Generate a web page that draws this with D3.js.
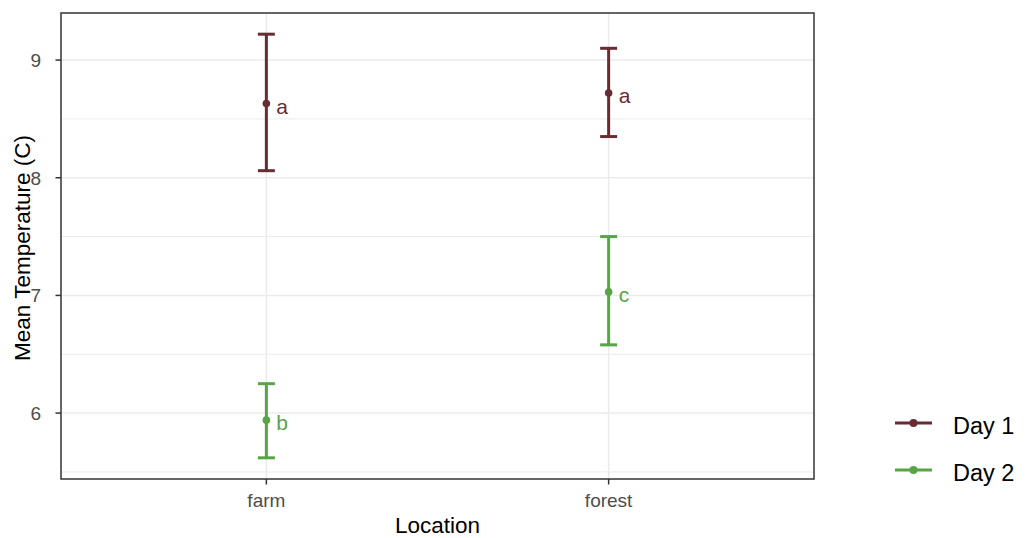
<!DOCTYPE html>
<html>
<head>
<meta charset="utf-8">
<script src="https://cdn.jsdelivr.net/npm/d3@7"></script>
<style>
  body { margin: 0; background: #fff; }
  svg { display: block; font-family: "Liberation Sans", Arial, sans-serif; }
  .grid-major { stroke: #ebebeb; stroke-width: 1.5; }
  .grid-minor { stroke: #ebebeb; stroke-width: 1; }
  .tick-label { fill: #4d4d4d; font-size: 19px; }
  .axis-title { fill: #000; font-size: 22.5px; }
  .legend-text { fill: #000; font-size: 23.5px; }
</style>
</head>
<body>
<svg id="chart" width="1029" height="538"></svg>
<script>
// data
var locations = ["farm", "forest"];
var seriesNames = ["Day 1", "Day 2"];
var seriesColors = ["#672d33", "#58a447"];
var day1Mean = [8.63, 8.72];
var day1Upper = [9.22, 9.10];
var day1Lower = [8.06, 8.35];
var day1Letters = ["a", "a"];
var day2Mean = [5.94, 7.03];
var day2Upper = [6.25, 7.50];
var day2Lower = [5.62, 6.58];
var day2Letters = ["b", "c"];
var yTicks = [6, 7, 8, 9];
var yMinor = [5.5, 6.5, 7.5, 8.5];

var series = [
  { name: seriesNames[0], color: seriesColors[0], mean: day1Mean, upper: day1Upper, lower: day1Lower, letters: day1Letters },
  { name: seriesNames[1], color: seriesColors[1], mean: day2Mean, upper: day2Upper, lower: day2Lower, letters: day2Letters }
];

var panel = { left: 61, right: 814, top: 13, bottom: 479 };
var svg = d3.select("#chart");

var x = d3.scalePoint()
  .domain(locations)
  .range([panel.left, panel.right])
  .padding(0.6);

var lo = d3.min(series, function(s) { return d3.min(s.lower); });
var hi = d3.max(series, function(s) { return d3.max(s.upper); });
var pad = (hi - lo) * 0.05;
var y = d3.scaleLinear()
  .domain([lo - pad, hi + pad])
  .range([panel.bottom, panel.top]);

// grid
var grid = svg.append("g");
grid.selectAll(".gm").data(yMinor).enter().append("line")
  .attr("class", "grid-minor")
  .attr("x1", panel.left).attr("x2", panel.right)
  .attr("y1", function(d) { return y(d); }).attr("y2", function(d) { return y(d); });
grid.selectAll(".gy").data(yTicks).enter().append("line")
  .attr("class", "grid-major")
  .attr("x1", panel.left).attr("x2", panel.right)
  .attr("y1", function(d) { return y(d); }).attr("y2", function(d) { return y(d); });
grid.selectAll(".gx").data(locations).enter().append("line")
  .attr("class", "grid-major")
  .attr("x1", function(d) { return x(d); }).attr("x2", function(d) { return x(d); })
  .attr("y1", panel.top).attr("y2", panel.bottom);

// error bars, points, letters
series.forEach(function(s) {
  var g = svg.append("g");
  locations.forEach(function(loc, i) {
    var cx = x(loc);
    var capW = 8.5;
    g.append("line")
      .attr("x1", cx).attr("x2", cx)
      .attr("y1", y(s.upper[i])).attr("y2", y(s.lower[i]))
      .attr("stroke", s.color).attr("stroke-width", 3);
    [s.upper[i], s.lower[i]].forEach(function(v) {
      g.append("line")
        .attr("x1", cx - capW).attr("x2", cx + capW)
        .attr("y1", y(v)).attr("y2", y(v))
        .attr("stroke", s.color).attr("stroke-width", 3);
    });
    g.append("circle")
      .attr("cx", cx).attr("cy", y(s.mean[i])).attr("r", 3.8)
      .attr("fill", s.color);
    g.append("text")
      .attr("x", cx + 10).attr("y", y(s.mean[i]) + 10)
      .attr("fill", s.color)
      .style("font-size", "21px")
      .text(s.letters[i]);
  });
});

// panel border
svg.append("rect")
  .attr("x", panel.left).attr("y", panel.top)
  .attr("width", panel.right - panel.left).attr("height", panel.bottom - panel.top)
  .attr("fill", "none").attr("stroke", "#333").attr("stroke-width", 1.5);

// axes
var yAxis = svg.append("g");
yAxis.selectAll("line").data(yTicks).enter().append("line")
  .attr("x1", panel.left - 5.5).attr("x2", panel.left)
  .attr("y1", function(d) { return y(d); }).attr("y2", function(d) { return y(d); })
  .attr("stroke", "#333").attr("stroke-width", 1.5);
yAxis.selectAll("text").data(yTicks).enter().append("text")
  .attr("class", "tick-label")
  .attr("x", panel.left - 20).attr("y", function(d) { return y(d); })
  .attr("dy", "0.36em")
  .attr("text-anchor", "end")
  .text(function(d) { return d; });

var xAxis = svg.append("g");
xAxis.selectAll("line").data(locations).enter().append("line")
  .attr("x1", function(d) { return x(d); }).attr("x2", function(d) { return x(d); })
  .attr("y1", panel.bottom).attr("y2", panel.bottom + 5.5)
  .attr("stroke", "#333").attr("stroke-width", 1.5);
xAxis.selectAll("text").data(locations).enter().append("text")
  .attr("class", "tick-label")
  .attr("x", function(d) { return x(d); }).attr("y", 507)
  .attr("text-anchor", "middle")
  .text(function(d) { return d; });

svg.append("text")
  .attr("class", "axis-title")
  .attr("x", (panel.left + panel.right) / 2).attr("y", 533)
  .attr("text-anchor", "middle")
  .text("Location");

svg.append("text")
  .attr("class", "axis-title")
  .attr("transform", "translate(30," + ((panel.top + panel.bottom) / 2 + 2) + ") rotate(-90)")
  .attr("text-anchor", "middle")
  .text("Mean Temperature (C)");

// legend
var legend = svg.append("g");
series.forEach(function(s, i) {
  var ly = 423 + i * 47;
  legend.append("line")
    .attr("x1", 895).attr("x2", 932).attr("y1", ly).attr("y2", ly)
    .attr("stroke", s.color).attr("stroke-width", 3);
  legend.append("circle")
    .attr("cx", 913.5).attr("cy", ly).attr("r", 4)
    .attr("fill", s.color);
  legend.append("text")
    .attr("class", "legend-text")
    .attr("x", 953).attr("y", ly + 11)
    .text(s.name);
});
</script>
</body>
</html>
